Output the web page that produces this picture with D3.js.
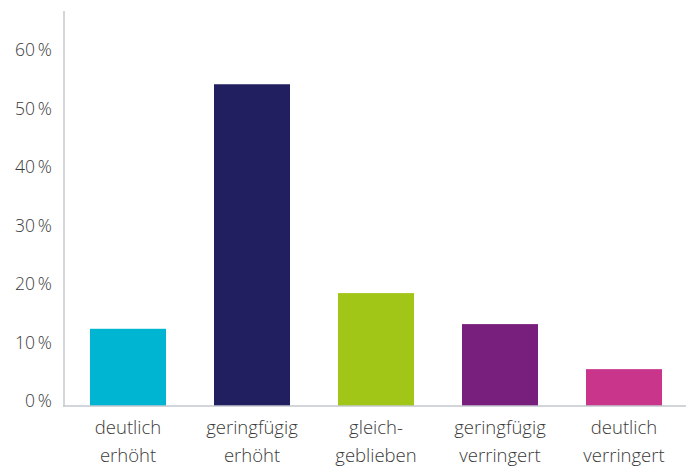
<!DOCTYPE html>
<html><head><meta charset="utf-8">
<script src="https://cdn.jsdelivr.net/npm/d3@7"></script>
<style>body{margin:0;background:#fff}svg{display:block;font-family:"Open Sans",sans-serif}</style>
</head><body><svg id="c" width="692" height="466"></svg>
<script>
const categories = [["deutlich","erhöht"],["geringfügig","erhöht"],["gleich-","geblieben"],["geringfügig","verringert"],["deutlich","verringert"]];
const values = [13.2, 55.0, 19.3, 14.0, 6.3];
const colors = ["#00b5d1","#211f5f","#a2c617","#781f7e","#c9358a"];
const yTicks = [0,10,20,30,40,50,60];

const svg = d3.select("#c");
const x = d3.scaleBand().domain(d3.range(categories.length)).range([66,686]).paddingInner(0.387).paddingOuter(0.1935);
const y = d3.scaleLinear().domain([0,60]).range([406,55]);

svg.selectAll("rect.bar").data(values).join("rect").attr("class","bar")
  .attr("x",(d,i)=>x(i)).attr("width",x.bandwidth())
  .attr("y",d=>y(d)).attr("height",d=>y(0)-y(d))
  .attr("fill",(d,i)=>colors[i]);

svg.append("line").attr("x1",64).attr("x2",64).attr("y1",11).attr("y2",406.5).attr("stroke","#c3c7ce").attr("stroke-width",1.5);
svg.append("line").attr("x1",63).attr("x2",686).attr("y1",406).attr("y2",406).attr("stroke","#c3c7ce").attr("stroke-width",1.5);

const yAxis = d3.axisLeft(y).tickValues(yTicks).tickSize(0).tickPadding(0).tickFormat(d=>d+"\u2009%");
const ga = svg.append("g").attr("transform","translate(52,-5)").call(yAxis);
ga.select(".domain").remove();
ga.selectAll("text").attr("font-size",17.5).attr("font-weight",300).attr("fill","#3a3a3a").attr("font-family","'Open Sans',sans-serif");

const gx = svg.append("g");
categories.forEach((lines,i)=>{
  const t = gx.append("text").attr("x",x(i)+x.bandwidth()/2).attr("text-anchor","middle")
    .attr("font-size",18.5).attr("font-weight",300).attr("fill","#3a3a3a");
  lines.forEach((l,j)=>t.append("tspan").attr("x",x(i)+x.bandwidth()/2).attr("y",434+j*28).text(l));
});
</script></body></html>
